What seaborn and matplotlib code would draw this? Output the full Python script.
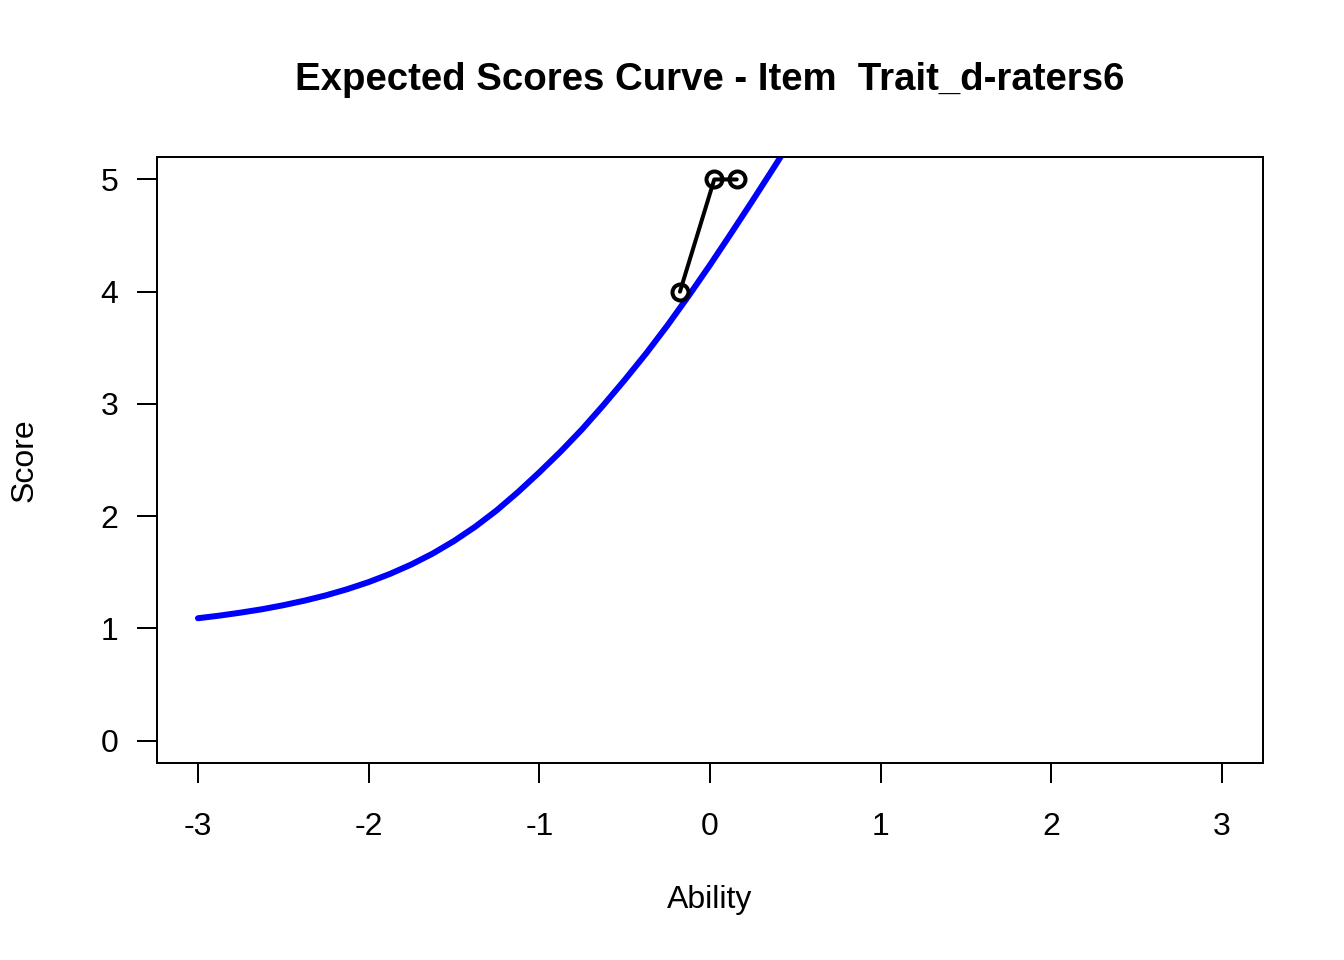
import matplotlib
matplotlib.use("Agg")
import matplotlib.pyplot as plt
import seaborn as sns
import pandas as pd

# Expected score curve
ability = [-3.0, -2.875, -2.75, -2.625, -2.5, -2.375, -2.25, -2.125, -2.0,
           -1.875, -1.75, -1.625, -1.5, -1.375, -1.25, -1.125, -1.0, -0.875,
           -0.75, -0.625, -0.5, -0.375, -0.25, -0.125, 0.0, 0.125, 0.25,
           0.375, 0.5]
expected = [1.090, 1.113, 1.140, 1.170, 1.206, 1.247, 1.294, 1.349, 1.412,
            1.485, 1.569, 1.666, 1.778, 1.906, 2.051, 2.214, 2.390, 2.575,
            2.773, 2.988, 3.213, 3.448, 3.698, 3.963, 4.238, 4.523, 4.813,
            5.108, 5.408]

# Observed points
obs_ability = [-0.176, 0.025, 0.157]
obs_score = [4, 5, 5]

title = "Expected Scores Curve - Item  Trait_d-raters6"
xticks = [-3, -2, -1, 0, 1, 2, 3]
yticks = [0, 1, 2, 3, 4, 5]

sns.set_theme(style="white")
plt.rcParams['font.family'] = ['Liberation Sans', 'DejaVu Sans']
plt.rcParams['text.color'] = 'black'
plt.rcParams['axes.labelcolor'] = 'black'

fig = plt.figure(figsize=(7, 5), dpi=192)
ax = fig.add_axes([157/1344, 1 - 763/960, (1263-157)/1344, (763-157)/960])

curve = pd.DataFrame({"Ability": ability, "Score": expected})
obs = pd.DataFrame({"Ability": obs_ability, "Score": obs_score})

sns.lineplot(data=curve, x="Ability", y="Score", ax=ax, color="#0000FF",
             linewidth=2.25, sort=False, solid_capstyle="round",
             solid_joinstyle="round")
sns.lineplot(data=obs, x="Ability", y="Score", ax=ax, color="black",
             linewidth=1.5, sort=False, marker="o", markersize=6,
             markerfacecolor="none", markeredgecolor="black",
             markeredgewidth=1.5)

ax.set_xlim(-3.24, 3.24)
ax.set_ylim(-0.2, 5.2)
ax.set_xticks(xticks)
ax.set_yticks(yticks)
ax.set_xticklabels([str(t) for t in xticks])
ax.set_yticklabels([str(t) for t in yticks])
ax.tick_params(axis='x', direction='out', length=7.5, width=0.75, pad=11,
               labelsize=12, colors='black', bottom=True)
ax.tick_params(axis='y', direction='out', length=7.5, width=0.75, pad=7,
               labelsize=12, colors='black', left=True)
for s in ax.spines.values():
    s.set_visible(True)
    s.set_color("black")
    s.set_linewidth(0.75)

ax.set_xlabel("Ability", fontsize=12, color="black")
ax.set_ylabel("Score", fontsize=12, color="black")
ax.xaxis.set_label_coords(0.5, -(900 - 763) / 606, transform=ax.transAxes)
ax.yaxis.set_label_coords(-(157 - 25) / 1106, 0.5, transform=ax.transAxes)
ax.xaxis.label.set_va("center")
ax.yaxis.label.set_va("center")

fig.text(ax.get_position().x0 + ax.get_position().width / 2, 1 - 80/960, title,
         ha="center", va="center", fontsize=14.4, fontweight="bold",
         color="black")

fig.savefig("out.png", dpi=192, facecolor="white")
